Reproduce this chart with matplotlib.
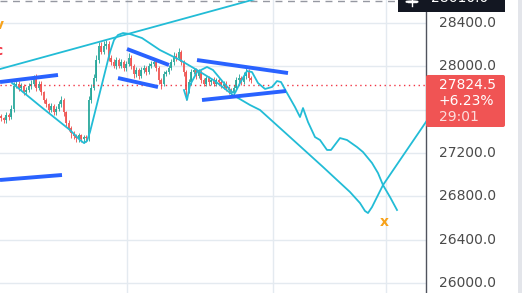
import matplotlib
matplotlib.use("Agg")
import matplotlib.pyplot as plt
from matplotlib.patches import Rectangle, Circle, FancyBboxPatch
import numpy as np

# ---------------- data ----------------
# candle closes (one candle every 2.5 time units)
closes = [27520, 27500, 27550, 27530, 27610, 27820, 27840, 27800, 27820, 27760,
          27780, 27820, 27840, 27890, 27800, 27840, 27760, 27690, 27650, 27595,
          27630, 27575, 27610, 27650, 27690, 27575, 27480, 27430, 27380, 27355,
          27335, 27362, 27325, 27345, 27335, 27690, 27800, 27890, 28060, 28190,
          28135, 28190, 28210, 28080, 28040, 28005, 28060, 28005, 28040, 27985,
          28020, 28080, 28005, 27930, 27967, 27912, 27967, 27985, 27950, 28005,
          28020, 28040, 27985, 27874, 27840, 27930, 27950, 27985, 28040, 28097,
          28080, 28135, 28040, 27950, 27781, 27855, 27950, 27967, 27912, 27950,
          27874, 27840, 27890, 27855, 27874, 27840, 27874, 27855, 27820, 27840,
          27800, 27781, 27760, 27800, 27874, 27890, 27855, 27912, 27950, 27890,
          27874]
first_open = 27540
wick_up = [20, 15, 25, 20, 30, 35, 25, 20, 30, 20, 25, 30, 35, 30, 40, 25, 20, 15, 20, 15,
           30, 20, 25, 30, 40, 20, 15, 20, 15, 25, 20, 25, 15, 20, 20, 40, 35, 40, 45, 35,
           30, 40, 35, 25, 20, 30, 25, 20, 30, 20, 30, 40, 25, 20, 30, 20, 25, 30, 20, 30,
           25, 35, 20, 15, 20, 25, 20, 30, 30, 35, 30, 35, 20, 15, 20, 30, 25, 20, 20, 25,
           15, 20, 25, 20, 20, 25, 20, 20, 15, 25, 20, 15, 15, 25, 30, 35, 20, 40, 55, 25,
           20]
wick_dn = [25, 20, 20, 25, 15, 30, 20, 25, 20, 25, 20, 20, 25, 20, 25, 20, 25, 30, 25, 30,
           20, 25, 20, 20, 25, 30, 30, 25, 40, 30, 35, 30, 25, 30, 35, 20, 25, 20, 25, 30,
           25, 20, 30, 35, 25, 20, 30, 25, 20, 30, 25, 20, 30, 35, 25, 30, 20, 25, 30, 20,
           25, 20, 30, 40, 45, 25, 20, 25, 20, 25, 30, 20, 30, 40, 90, 30, 25, 20, 25, 20,
           30, 25, 20, 30, 25, 20, 25, 30, 20, 25, 30, 35, 40, 25, 20, 25, 30, 20, 25, 30,
           25]

# blue drawn trend lines: (x0, x1), (p0, p1)
blue_x = [(0, 58), (0, 62), (127, 169), (118, 158), (197, 288), (202, 286)]
blue_p = [(27855, 27920), (26951, 26997), (28160, 28012), (27892, 27809),
          (28058, 27938), (27689, 27772)]

# long cyan trend line
trend_x = [0, 280]
trend_p = [27975, 28683]

# cyan projection path 1
path1_x = [12, 40, 70, 80, 84, 87, 90, 95, 100, 105, 110, 114, 118, 123, 130, 142,
           160, 180, 197, 215, 233, 250, 260, 290, 323, 337, 350, 360, 365, 368,
           372, 383, 400, 430]
path1_p = [27846, 27634, 27412, 27320, 27292, 27311, 27394, 27578, 27763, 27947,
           28132, 28243, 28289, 28307, 28298, 28261, 28150, 28058, 27966, 27864,
           27735, 27643, 27597, 27347, 27071, 26951, 26840, 26738, 26665, 26646,
           26701, 26904, 27135, 27541]

# cyan projection path 2
path2_x = [184, 187, 190, 197, 207, 213, 223, 232, 235, 240, 247, 252, 258, 265, 272,
           277, 281, 287, 295, 300, 303, 308, 315, 320, 327, 331, 340, 347, 357, 363,
           372, 378, 383, 390, 397]
path2_p = [27781, 27689, 27827, 27947, 27994, 27966, 27855, 27763, 27754, 27846,
           27957, 27947, 27846, 27791, 27809, 27864, 27855, 27754, 27624, 27532,
           27615, 27486, 27347, 27320, 27228, 27228, 27338, 27320, 27255, 27209,
           27108, 27015, 26904, 26794, 26674]

price_ticks = [26000, 26400, 26800, 27200, 27600, 28000, 28400, 28800]
time_grid = [127, 273, 386]
last_price = "27824.5"
last_change = "+6.23%"
countdown = "29:01"
cross_price = "28610.0"

# ---------------- figure ----------------
W, H = 522, 293
fig = plt.figure(figsize=(W / 100, H / 100), dpi=100)
fig.patch.set_facecolor("white")
ax = fig.add_axes([0, 0, 426 / W, 1])
ax.set_xlim(0, 426)
ax.set_ylim(25908, 28612)
ax.set_facecolor("white")
for s in ["top", "left", "bottom"]:
    ax.spines[s].set_visible(False)
ax.spines["right"].set_color("#50535e")
ax.spines["right"].set_linewidth(1)
ax.set_xticks([])
ax.set_yticks([])

grid_c = "#e4eaf0"
for p in price_ticks:
    ax.axhline(p, color=grid_c, lw=1, zorder=0)
for t in time_grid:
    ax.axvline(t, color=grid_c, lw=1, zorder=0)

# candles
opens = [first_open] + closes[:-1]
for i, (o, c) in enumerate(zip(opens, closes)):
    x = i * 2.5 + 1
    col = "#26a69a" if c >= o else "#ef5350"
    hi = max(o, c) + wick_up[i]
    lo = min(o, c) - wick_dn[i]
    ax.vlines(x, lo, hi, color=col, lw=0.7, alpha=0.9, zorder=2)
    ax.bar(x, max(abs(c - o), 8), bottom=min(o, c), width=1.4, color=col,
           alpha=0.9, linewidth=0, zorder=2)

# red last-price dotted line
ax.axhline(27824.5, color="#f23645", lw=1, ls=(0, (1, 2.5)), zorder=3)
# crosshair dashed line at top
ax.axhline(28605, color="#9598a1", lw=1, ls=(0, (5, 4)), zorder=3)

cyan = "#22bcd6"
ax.plot(trend_x, trend_p, color=cyan, lw=1.3, zorder=4)
ax.plot(path1_x, path1_p, color=cyan, lw=1.3, zorder=4)
ax.plot(path2_x, path2_p, color=cyan, lw=1.3, zorder=4)

for (x0, x1), (p0, p1) in zip(blue_x, blue_p):
    ax.plot([x0, x1], [p0, p1], color="#2962ff", lw=2.8, solid_capstyle="butt", zorder=5)

# partially visible labels at the left edge and orange x
ax.text(4, 28382, "v", color="#f7a21b", fontsize=10, fontweight="bold",
        ha="right", va="center", zorder=6)
ax.text(3, 28140, "c", color="#f23645", fontsize=10, fontweight="bold",
        ha="right", va="center", zorder=6)
ax.text(384, 26560, "x", color="#f7a21b", fontsize=10, fontweight="bold",
        ha="center", va="center", zorder=6)

# price axis labels
for p in price_ticks:
    if p in (27600, 28800):
        continue
    ax.text(439, p, f"{p:.1f}", color="#4a4a4a", fontsize=10, ha="left",
            va="center", clip_on=False)

# last price box
ax.add_patch(FancyBboxPatch((426, 27440), 79, 480, boxstyle="round,pad=0,rounding_size=2",
                            mutation_aspect=9.23, facecolor="#f05454", edgecolor="none",
                            clip_on=False, zorder=6))
ax.text(439, 27827, last_price, color="white", fontsize=10, ha="left", va="center",
        clip_on=False, zorder=7)
ax.text(439, 27680, last_change, color="white", fontsize=10, ha="left", va="center",
        clip_on=False, zorder=7)
ax.text(439, 27532, countdown, color="white", alpha=0.8, fontsize=10, ha="left",
        va="center", clip_on=False, zorder=7)

# top dark crosshair label and "+" button
ax.add_patch(Rectangle((398, 28501), 107, 140, facecolor="#131722", edgecolor="none",
                       clip_on=False, zorder=6))
ax.text(431, 28628, cross_price, color="white", fontsize=10, ha="left", va="center",
        clip_on=False, zorder=7)
ax.add_patch(Circle((412, 28596), 6, fill=False, edgecolor="white", lw=1,
                    clip_on=False, zorder=7))
ax.plot([408, 416], [28596, 28596], color="white", lw=1, zorder=7, clip_on=False)
ax.plot([412, 412], [28560, 28620], color="white", lw=1, zorder=7, clip_on=False)

# right grey strip
fig.patches.append(Rectangle((518 / W, 0), 4 / W, 1, transform=fig.transFigure,
                             facecolor="#e3e5ea", edgecolor="none"))

fig.savefig("out.png", dpi=100)
